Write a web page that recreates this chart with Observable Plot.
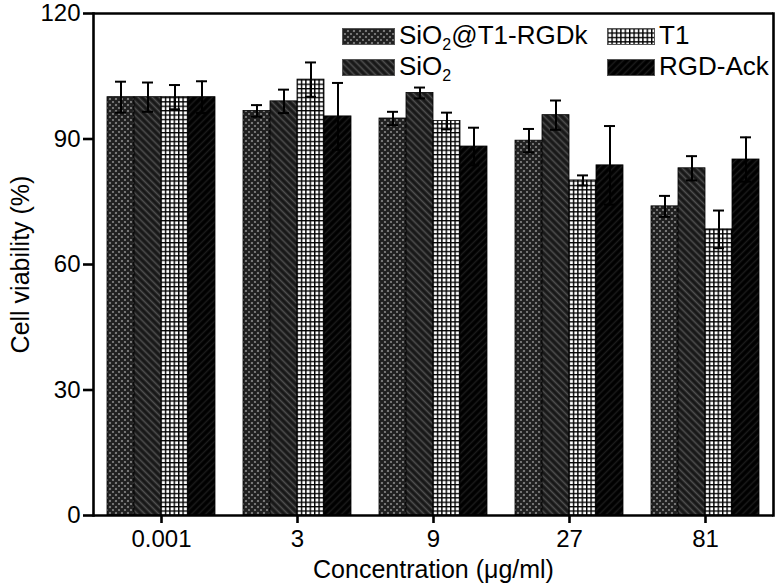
<!DOCTYPE html>
<html>
<head>
<meta charset="utf-8">
<script src="https://cdn.jsdelivr.net/npm/d3@7"></script>
<script src="https://cdn.jsdelivr.net/npm/@observablehq/plot@0.6"></script>
<style>
  body { margin: 0; background: #fff; }
  #wrap { position: relative; width: 778px; height: 587px; font-family: "Liberation Sans", Arial, sans-serif; color: #000; }
  #legend { position: absolute; left: 0; top: 0; }
  .item { position: absolute; }
  .item svg { position: absolute; left: 0; top: 0; display: block; }
  .item span { position: absolute; top: -6px; font-size: 26px; line-height: 26px; white-space: nowrap; }
  .item sub { font-size: 16px; vertical-align: -6px; line-height: 0; }
  svg g[aria-label="fx-axis label"] text, svg g[aria-label="y-axis label"] text { font-size: 25px; }
</style>
</head>
<body>
<svg width="0" height="0" style="position:absolute">
  <defs>
    <pattern id="pat0" patternUnits="userSpaceOnUse" width="6" height="6">
      <rect width="6" height="6" fill="#9a9a9a"></rect>
      <path d="M0,0L6,6M6,0L0,6" stroke="#202020" stroke-width="2.6"></path>
    </pattern>
    <pattern id="pat1" patternUnits="userSpaceOnUse" width="5" height="5" patternTransform="rotate(-45)">
      <rect width="5" height="5" fill="#181818"></rect>
      <path d="M2.5,0V5" stroke="#505050" stroke-width="1.6"></path>
    </pattern>
    <pattern id="pat2" patternUnits="userSpaceOnUse" width="4.4" height="4.4">
      <rect width="4.4" height="4.4" fill="#fff"></rect>
      <path d="M0,0.7H4.4M0.7,0V4.4" stroke="#000" stroke-width="1.4"></path>
    </pattern>
    <pattern id="pat3" patternUnits="userSpaceOnUse" width="5" height="5" patternTransform="rotate(45)">
      <rect width="5" height="5" fill="#000"></rect>
      <path d="M2.5,0V5" stroke="#1c1c1c" stroke-width="1.5"></path>
    </pattern>
  </defs>
</svg>
<div id="wrap">
  <div id="chart"></div>
  <div id="legend"></div>
</div>
<script>
const concentrations = ["0.001", "3", "9", "27", "81"];
const series = ["SiO2@T1-RGDk", "SiO2", "T1", "RGD-Ack"];
const seriesLabels = ["SiO<sub>2</sub>@T1-RGDk", "SiO<sub>2</sub>", "T1", "RGD-Ack"];
const patterns = ["url(#pat0)", "url(#pat1)", "url(#pat2)", "url(#pat3)"];

const valuesRGDk = [100.0, 96.7, 94.9, 89.6, 73.9];
const valuesSiO2 = [100.0, 99.0, 101.0, 95.7, 83.0];
const valuesT1   = [100.0, 104.2, 94.3, 80.1, 68.4];
const valuesAck  = [100.0, 95.4, 88.2, 83.7, 85.1];

const errRGDk = [3.7, 1.4, 1.6, 2.8, 2.5];
const errSiO2 = [3.5, 2.8, 1.3, 3.5, 2.9];
const errT1   = [2.9, 4.1, 2.0, 1.2, 4.5];
const errAck  = [3.8, 8.0, 4.5, 9.4, 5.3];

const yTicks = [0, 30, 60, 90, 120];

const allValues = [valuesRGDk, valuesSiO2, valuesT1, valuesAck];
const allErrors = [errRGDk, errSiO2, errT1, errAck];

const data = [];
series.forEach((s, i) => concentrations.forEach((c, j) => {
  data.push({series: s, conc: c, value: allValues[i][j], err: allErrors[i][j]});
}));

const font = '"Liberation Sans", Arial, sans-serif';

const chart = Plot.plot({
  width: 778,
  height: 587,
  marginLeft: 91,
  marginRight: 3,
  marginTop: 13,
  marginBottom: 72,
  style: {fontFamily: font, fontSize: "24px", color: "#000", background: "#fff", overflow: "visible"},
  fx: {domain: concentrations, padding: 0},
  x: {domain: series, paddingInner: 0, paddingOuter: 0.5, axis: null},
  y: {domain: [0, 120]},
  color: {domain: series, range: patterns},
  marks: [
    Plot.barY(data, {fx: "conc", x: "series", y: "value", fill: "series", stroke: "#000", strokeWidth: 0.8}),
    Plot.ruleX(data, {fx: "conc", x: "series", y1: d => d.value - d.err, y2: d => d.value + d.err, stroke: "#000", strokeWidth: 2}),
    Plot.tickY(data, {fx: "conc", x: "series", y: d => d.value + d.err, insetLeft: 8, insetRight: 8, stroke: "#000", strokeWidth: 2}),
    Plot.tickY(data, {fx: "conc", x: "series", y: d => d.value - d.err, insetLeft: 8, insetRight: 8, stroke: "#000", strokeWidth: 2}),
    Plot.ruleY([0, 120], {stroke: "#000", strokeWidth: 2.6}),
    Plot.frame({anchor: "left", facetAnchor: "left", stroke: "#000", strokeWidth: 2.6}),
    Plot.frame({anchor: "right", facetAnchor: "right", stroke: "#000", strokeWidth: 2.6}),
    Plot.axisY({ticks: yTicks, tickSize: 10, tickPadding: 3, strokeWidth: 2.6, fontSize: 24,
      label: "Cell viability (%)", labelAnchor: "center", labelOffset: 82, labelArrow: "none"}),
    Plot.axisFx({anchor: "bottom", tickSize: 8, tickPadding: 6, strokeWidth: 2.6, fontSize: 24,
      label: "Concentration (μg/ml)", labelAnchor: "center", labelOffset: 62, labelArrow: "none"})
  ]
});
document.getElementById("chart").appendChild(chart);

// Legend (HTML overlay, column-major like the original)
const legend = document.getElementById("legend");
const colLeft = [342, 607];
const rowTop = [28, 59];
const swW = [53, 48];
series.forEach((s, i) => {
  const col = Math.floor(i / 2), row = i % 2;
  const div = document.createElement("div");
  div.className = "item";
  div.style.left = colLeft[col] + "px";
  div.style.top = rowTop[row] + "px";
  div.innerHTML = `<svg width="${swW[col]}" height="17"><rect x="0.5" y="0.5" width="${swW[col] - 1}" height="16" fill="${patterns[i]}" stroke="#555" stroke-width="1"></rect></svg><span style="left:${swW[col] + 4}px">${seriesLabels[i]}</span>`;
  legend.appendChild(div);
});
</script>
</body>
</html>
